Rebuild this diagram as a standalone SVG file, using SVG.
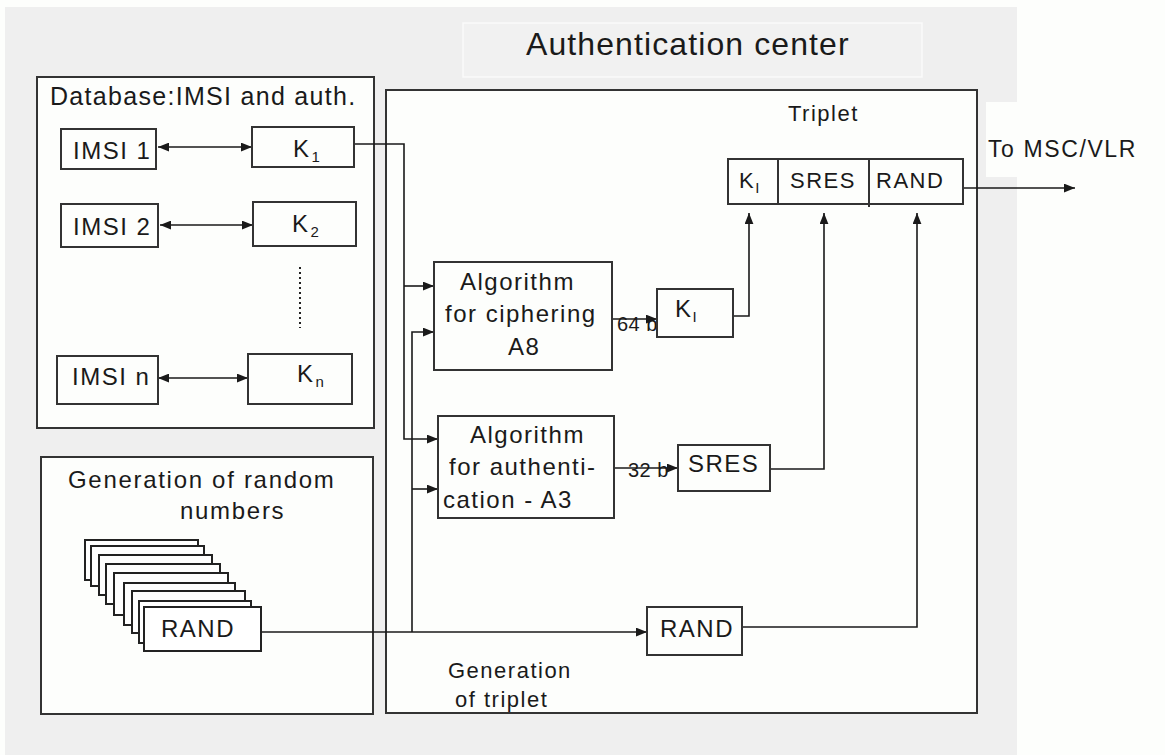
<svg xmlns="http://www.w3.org/2000/svg" width="1165" height="755" viewBox="0 0 1165 755">
  <defs>
    <marker id="arr" viewBox="0 0 10 8" markerWidth="11" markerHeight="9" refX="10" refY="4" orient="auto-start-reverse" markerUnits="userSpaceOnUse">
      <path d="M0,0 L10,4 L0,8 z" fill="#1a1a1a"/>
    </marker>
    <style>
      text { font-family: "Liberation Sans", Arial, sans-serif; fill: #1a1a1a; letter-spacing: 1.5px; }
      .t24 { font-size: 24px; }
      .t22 { font-size: 22px; }
      .t25 { font-size: 25px; letter-spacing: 1.3px; }
      .t20 { font-size: 20px; letter-spacing: 0.5px; }
      .sub { font-size: 15px; letter-spacing: 0; }
      .box { fill: #fdfefc; stroke: #333; stroke-width: 2; }
      .frame { fill: #fdfefc; stroke: #333; stroke-width: 2; }
      .card { fill: #fff; stroke: #222; stroke-width: 2; }
      .wire { fill: none; stroke: #1a1a1a; stroke-width: 1.6; }
      .arrow { marker-end: url(#arr); }
      .both { marker-start: url(#arr); marker-end: url(#arr); }
    </style>
  </defs>

  <!-- page -->
  <rect x="0" y="0" width="1165" height="755" fill="#fdfefc"/>
  <rect x="5" y="7" width="1012" height="748" fill="#efefef"/>

  <!-- title -->
  <g id="title">
    <rect x="463" y="23" width="459" height="54" fill="#f1f1f1" stroke="#fafafa" stroke-width="1.5"/>
    <text x="526" y="55" style="font-size:32px;letter-spacing:1.1px">Authentication  center</text>
  </g>

  <!-- output label -->
  <g id="to-msc">
    <rect x="986" y="102" width="150" height="75" fill="#fdfefc"/>
    <text class="t22" x="988" y="157" style="font-size:23px;letter-spacing:1.6px">To MSC/VLR</text>
  </g>

  <!-- containers -->
  <g id="database">
    <rect class="frame" x="37" y="77" width="337" height="351"/>
    <text class="t25" x="50" y="105">Database:IMSI and auth.</text>
    <line x1="300" y1="267" x2="300" y2="328" stroke="#222" stroke-width="2" stroke-dasharray="2,3"/>
  </g>
  <g id="random-generator">
    <rect class="frame" x="41" y="457" width="332" height="257"/>
    <text class="t24" x="68" y="488" style="letter-spacing:1.7px">Generation of random</text>
    <text class="t24" x="180" y="519" style="letter-spacing:1.7px">numbers</text>
  </g>
  <g id="triplet-generation">
    <rect class="frame" x="386" y="90" width="591" height="623"/>
    <text class="t22" x="788" y="121">Triplet</text>
    <text class="t22" x="448" y="678">Generation</text>
    <text class="t22" x="455" y="707">of triplet</text>
  </g>

  <!-- connectors -->
  <g id="connectors">
    <line class="wire both" x1="158" y1="147" x2="252" y2="147"/>
    <line class="wire both" x1="160" y1="225" x2="253" y2="225"/>
    <line class="wire both" x1="158" y1="378" x2="248" y2="378"/>

    <polyline class="wire arrow" points="354,144 404,144 404,439 438,439"/>
    <line class="wire arrow" x1="404" y1="286" x2="434" y2="286"/>

    <line class="wire arrow" x1="261" y1="632" x2="647" y2="632"/>
    <polyline class="wire arrow" points="412,632 412,332 434,332"/>
    <line class="wire arrow" x1="412" y1="489" x2="438" y2="489"/>

    <line class="wire arrow" x1="612" y1="319" x2="657" y2="319"/>
    <text class="t20" x="617" y="331">64 b</text>
    <line class="wire arrow" x1="614" y1="468" x2="678" y2="468"/>
    <text class="t20" x="628" y="477">32 b</text>

    <polyline class="wire arrow" points="733,316 749,316 749,213"/>
    <polyline class="wire arrow" points="770,469 824,469 824,213"/>
    <polyline class="wire arrow" points="742,627 917,627 917,213"/>
    <line class="wire arrow" x1="963" y1="188" x2="1075" y2="188"/>
  </g>

  <!-- key store -->
  <g id="imsi-1">
    <rect class="box" x="61" y="129" width="95" height="40"/>
    <text class="t24" x="73" y="159">IMSI 1</text>
  </g>
  <g id="k-1">
    <rect class="box" x="252" y="127" width="102" height="40"/>
    <text class="t24" x="293" y="157">K<tspan class="sub" dx="1" dy="5">1</tspan></text>
  </g>
  <g id="imsi-2">
    <rect class="box" x="61" y="204" width="97" height="43"/>
    <text class="t24" x="73" y="235">IMSI 2</text>
  </g>
  <g id="k-2">
    <rect class="box" x="253" y="202" width="103" height="44"/>
    <text class="t24" x="292" y="232">K<tspan class="sub" dx="1" dy="5">2</tspan></text>
  </g>
  <g id="imsi-n">
    <rect class="box" x="57" y="356" width="101" height="48"/>
    <text class="t24" x="72" y="385">IMSI n</text>
  </g>
  <g id="k-n">
    <rect class="box" x="248" y="354" width="104" height="50"/>
    <text class="t24" x="297" y="382">K<tspan class="sub" dx="1" dy="5">n</tspan></text>
  </g>

  <!-- random number stack -->
  <g id="rand-stack">
    <rect class="card" x="85" y="540" width="113" height="40"/>
    <rect class="card" x="91" y="546" width="113" height="40"/>
    <rect class="card" x="99" y="555" width="113" height="40"/>
    <rect class="card" x="106" y="564" width="114" height="40"/>
    <rect class="card" x="114" y="573" width="114" height="42"/>
    <rect class="card" x="124" y="583" width="111" height="42"/>
    <rect class="card" x="132" y="591" width="113" height="42"/>
    <rect class="card" x="139" y="601" width="112" height="42"/>
    <rect class="card" x="144" y="607" width="117" height="44"/>
    <text class="t24" x="161" y="637">RAND</text>
  </g>

  <!-- algorithms -->
  <g id="a8">
    <rect class="box" x="434" y="262" width="178" height="108"/>
    <text class="t24" x="460" y="290">Algorithm</text>
    <text class="t24" x="445" y="322">for ciphering</text>
    <text class="t24" x="508" y="355">A8</text>
  </g>
  <g id="a3">
    <rect class="box" x="438" y="416" width="176" height="102"/>
    <text class="t24" x="470" y="443">Algorithm</text>
    <text class="t24" x="449" y="475">for authenti-</text>
    <text class="t24" x="443" y="508">cation - A3</text>
  </g>

  <!-- outputs -->
  <g id="ki">
    <rect class="box" x="657" y="289" width="76" height="48"/>
    <text class="t24" x="675" y="317">K<tspan class="sub" dx="0" dy="5">I</tspan></text>
  </g>
  <g id="sres">
    <rect class="box" x="678" y="445" width="92" height="46"/>
    <text class="t24" x="688" y="472">SRES</text>
  </g>
  <g id="rand">
    <rect class="box" x="647" y="607" width="95" height="48"/>
    <text class="t24" x="660" y="637">RAND</text>
  </g>

  <!-- triplet -->
  <g id="triplet">
    <rect class="box" x="728" y="159" width="235" height="45"/>
    <line x1="778" y1="159" x2="778" y2="204" stroke="#333" stroke-width="2"/>
    <line x1="869" y1="159" x2="869" y2="207" stroke="#333" stroke-width="2"/>
    <text class="t22" x="739" y="188">K<tspan class="sub" dx="0" dy="5">I</tspan></text>
    <text class="t22" x="790" y="188">SRES</text>
    <text class="t22" x="876" y="188">RAND</text>
  </g>
</svg>
